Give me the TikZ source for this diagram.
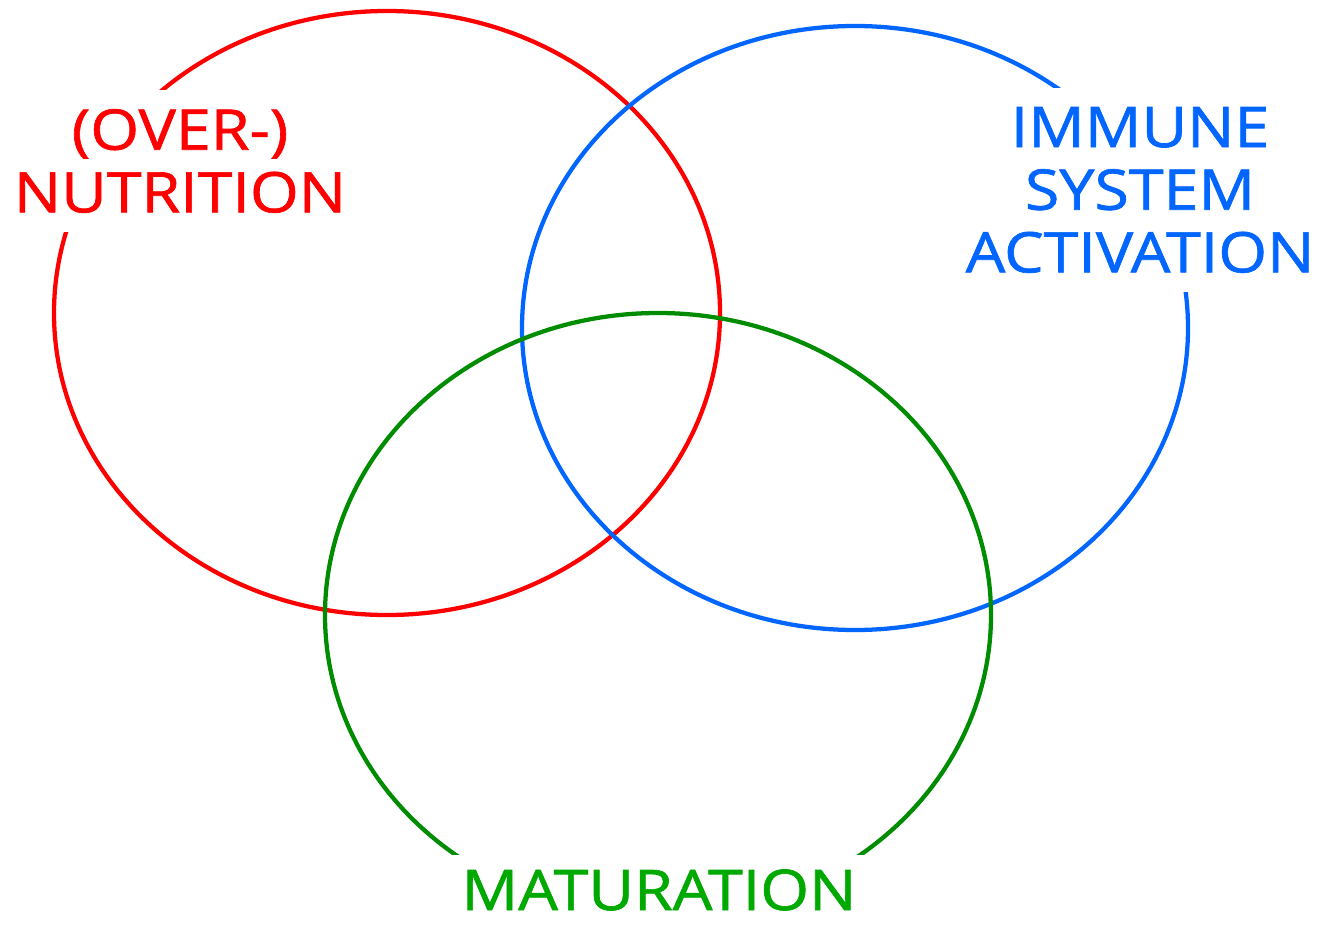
\documentclass[tikz,border=0pt]{standalone}
\usepackage{fontspec}
\setmainfont{Open Sans}
\newfontfamily\vennfont[FakeStretch=1.12, FakeBold=1.2]{Open Sans}
\usetikzlibrary{shapes.geometric}
\definecolor{nutred}{RGB}{255,0,0}
\definecolor{immblue}{RGB}{0,102,255}
\definecolor{matgreen}{RGB}{0,140,0}

\begin{document}
\begin{tikzpicture}[x=0.75pt, y=-0.75pt,
   set/.style={ellipse, draw, line width=3.2pt, minimum width=499.5pt, minimum height=453pt, inner sep=0pt},
   label/.style={fill=white, align=center, inner xsep=8pt, inner ysep=14pt, font=\vennfont\fontsize{42}{47}\selectfont}]
\useasboundingbox (0,0) rectangle (1323,927);
\node[set, draw=nutred] (nut) at (387, 313) {};
\node[set, draw=immblue] (imm) at (855, 328) {};
\node[set, draw=matgreen] (mat) at (658, 615) {};

\node[label, text=nutred] (nutlabel) at (180, 161) {(OVER-)\\NUTRITION};
\node[label, text=immblue] (immlabel) at (1140, 190) {IMMUNE\\SYSTEM\\ACTIVATION};
\node[label, text=matgreen!75!green, inner ysep=3pt, text height=38pt, text depth=9pt, anchor=base] (matlabel) at (659, 910) {MATURATION};

\end{tikzpicture}
\end{document}
